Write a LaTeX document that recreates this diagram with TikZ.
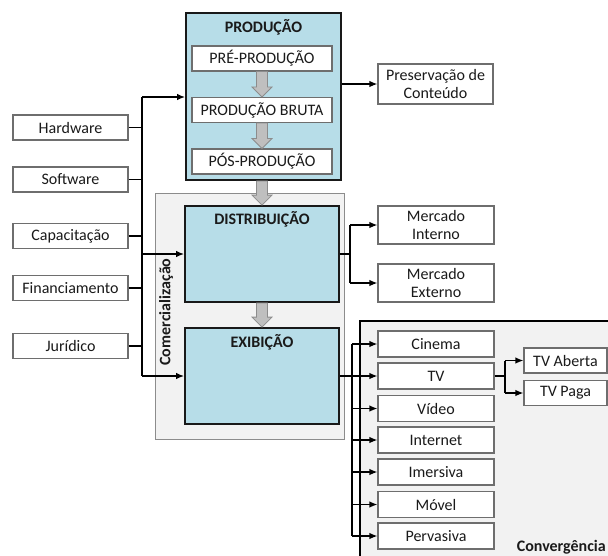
\documentclass[tikz,border=0pt]{standalone}
\usepackage{fontspec}
\setmainfont{Carlito}
\usetikzlibrary{calc,arrows.meta}
\definecolor{bluefill}{HTML}{B7DDE8}
\definecolor{panelfill}{HTML}{F2F2F2}
\definecolor{boxline}{HTML}{6E6E6E}
\definecolor{garrowfill}{HTML}{BFBFBF}
\definecolor{garrowline}{HTML}{8C8C8C}
\definecolor{txt}{HTML}{1A1A1A}
\tikzset{
  wbox/.style={draw=boxline, line width=1.1pt, fill=white, inner sep=0pt, text=txt},
  bbox/.style={draw=black!90, line width=1.8pt, fill=bluefill, inner sep=0pt},
  ttl/.style={font=\fontsize{16}{18}\selectfont\bfseries, text=txt, inner sep=0pt},
  conn/.style={draw=black, line width=1.4pt},
  arr/.style={conn, -{Latex[length=8pt,width=6.5pt]}},
  garrowstyle/.style={fill=garrowfill, draw=garrowline, line width=0.8pt},
}
\newcommand{\garrow}[2]{\filldraw[garrowstyle] let \p1=(#1), \p2=(#2) in
  (\x1-5.5pt,\y1) -- (\x1-5.5pt,\y2+10pt) -- (\x1-10pt,\y2+10pt) -- (\x1,\y2)
  -- (\x1+10pt,\y2+10pt) -- (\x1+5.5pt,\y2+10pt) -- (\x1+5.5pt,\y1) -- cycle;}
\begin{document}
\begin{tikzpicture}[x=1pt,y=-1pt,font=\fontsize{16}{18}\selectfont]
\clip (0,0) rectangle (608,555);
\fill[white] (0,0) rectangle (608,555);
% panels
\draw[fill=panelfill, draw=black!45, line width=1pt] (155,193) rectangle (344,439);
\draw[fill=panelfill, draw=black, line width=1.4pt] (360,321) rectangle (625,575);
\node[ttl, anchor=east] (conv) at (606,547) {Convergência};
\node[ttl, rotate=90] (com) at (166,312) {Comercialização};
% production block
\node[bbox, minimum width=155pt, minimum height=167pt] (prod) at (263.5,96.5) {};
\node[ttl] (prodt) at (263.5,27) {PRODUÇÃO};
\node[wbox, minimum width=140pt, minimum height=25pt] (pre) at (262,58.5) {PRÉ-PRODUÇÃO};
\node[wbox, minimum width=140pt, minimum height=25pt] (bruta) at (262,110) {PRODUÇÃO BRUTA};
\node[wbox, minimum width=140pt, minimum height=25pt] (pos) at (262,161.5) {PÓS-PRODUÇÃO};
% distribution / exhibition
\node[bbox, minimum width=154pt, minimum height=96pt] (dist) at (262,254) {};
\node[ttl] (distt) at (262,219) {DISTRIBUIÇÃO};
\node[bbox, minimum width=154pt, minimum height=96pt] (exib) at (262,376) {};
\node[ttl] (exibt) at (262,342) {EXIBIÇÃO};
% gray arrows
\garrow{pre.south}{bruta.north}
\garrow{bruta.south}{pos.north}
\garrow{prod.south -| dist.north}{dist.north}
\garrow{dist.south}{exib.north}
% left inputs
\foreach \n/\t/\y in {hw/Hardware/127.5, sw/Software/179.5, cap/Capacitação/236, fin/Financiamento/288, jur/Jurídico/346}
  \node[wbox, minimum width=115pt, minimum height=25pt] (\n) at (70.5,\y) {\t};
\coordinate (bustop) at (142,97);
\coordinate (busbot) at (142,376);
\draw[conn] (bustop) -- (busbot);
\foreach \n in {hw,sw,cap,fin,jur}
  \draw[conn] (\n.east) -- (\n.east -| bustop);
\draw[arr] (bustop) -- (bustop -| prod.west);
\draw[arr] (dist.west -| bustop) -- (dist.west);
\draw[arr] (busbot) -- (exib.west);
% right outputs
\node[wbox, minimum width=115pt, minimum height=40pt, align=center] (pres) at (435.5,84) {Preservação de\\Conteúdo};
\draw[arr] (pres.west -| prod.east) -- (pres.west);
\node[wbox, minimum width=116pt, minimum height=38pt, align=center] (mi) at (436,225) {Mercado\\Interno};
\node[wbox, minimum width=116pt, minimum height=38pt, align=center] (me) at (436,283) {Mercado\\Externo};
\coordinate (dj) at (350,254);
\draw[conn] (dist.east) -- (dj);
\draw[conn] (dj |- mi.west) -- (dj |- me.west);
\draw[arr] (dj |- mi.west) -- (mi.west);
\draw[arr] (dj |- me.west) -- (me.west);
% media
\foreach \n/\t/\y in {cin/Cinema/344, tv/TV/376, vid/Vídeo/408.5, int/Internet/440, ime/Imersiva/472, mov/Móvel/504.5, per/Pervasiva/536}
  \node[wbox, minimum width=116pt, minimum height=26pt] (\n) at (436,\y) {\t};
\coordinate (ej) at (352,344);
\draw[conn] (ej) -- (ej |- per.west);
\draw[arr] (exib.east) -- (tv.west);
\foreach \n in {cin,vid,int,ime,mov,per}
  \draw[arr] (\n.west -| ej) -- (\n.west);
\node[wbox, minimum width=83pt, minimum height=25pt] (tva) at (565.5,360.5) {TV Aberta};
\node[wbox, minimum width=83pt, minimum height=25pt] (tvp) at (565.5,393) {TV Paga};
\coordinate (tj) at (505,376);
\draw[conn] (tv.east) -- (tj);
\draw[conn] (tj |- tva.west) -- (tj |- tvp.west);
\draw[arr] (tj |- tva.west) -- (tva.west);
\draw[arr] (tj |- tvp.west) -- (tvp.west);
\end{tikzpicture}
\end{document}
